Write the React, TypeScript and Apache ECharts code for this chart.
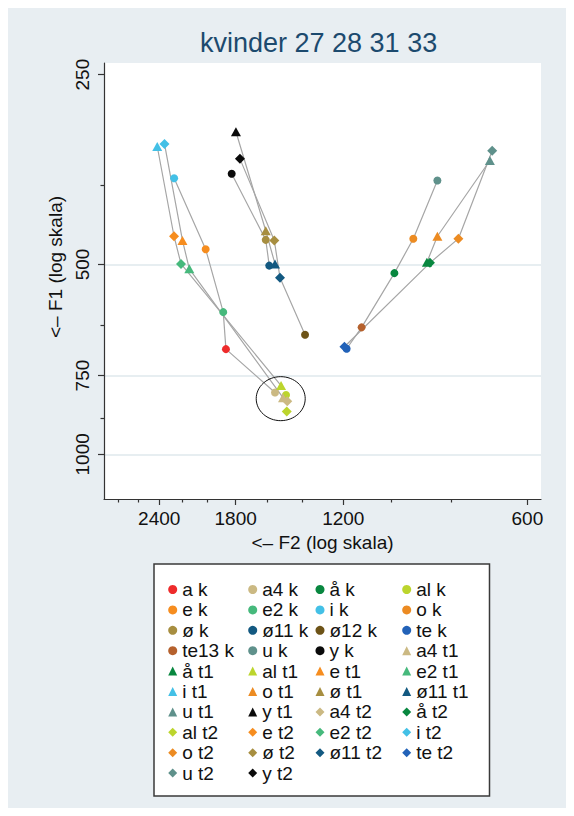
import React, { useEffect, useRef } from "react";
import * as echarts from "echarts";

// Point labels (vowel + measurement time), in legend order
const labels = [
  "a k", "a4 k", "å k", "al k",
  "e k", "e2 k", "i k", "o k",
  "ø k", "ø11 k", "ø12 k", "te k",
  "te13 k", "u k", "y k", "a4 t1",
  "å t1", "al t1", "e t1", "e2 t1",
  "i t1", "o t1", "ø t1", "ø11 t1",
  "u t1", "y t1", "a4 t2", "å t2",
  "al t2", "e t2", "e2 t2", "i t2",
  "o t2", "ø t2", "ø11 t2", "te t2",
  "u t2", "y t2",
];

// F2 (Hz) for each label
const f2Hz = [
  1867, 1552, 990, 1489,
  2015, 1886, 2269, 922,
  1607, 1586, 1386, 1185,
  1120, 842, 1827, 1506,
  876, 1517, 2199, 2143,
  2418, 842, 1607, 1552,
  691, 1798, 1482, 866,
  1485, 2270, 2211, 2353,
  778, 1556, 1523, 1195,
  685, 1771,
];

// F1 (Hz) for each label
const f1Hz = [
  681, 798, 516, 805,
  473, 595, 365, 455,
  457, 502, 646, 680,
  629, 368, 359, 813,
  496, 778, 458, 508,
  325, 451, 442, 499,
  342, 308, 824, 497,
  855, 451, 499, 322,
  455, 458, 525, 675,
  330, 340,
];

// Grey connecting lines between points
const links = [
  ["i k", "e k", "e2 k", "a k", "a4 k"],
  ["i t1", "e t2", "e2 t2", "al t1"],
  ["i t2", "e t1", "e2 t1", "a4 t1"],
  ["y k", "ø k", "ø11 k"],
  ["y t1", "ø t1", "ø11 t1"],
  ["y t2", "ø t2", "ø11 t2", "ø12 k"],
  ["u k", "o k", "å k", "te13 k", "te k"],
  ["u t1", "o t1", "å t1"],
  ["u t2", "o t2", "å t2", "te t2"],
];

const xMajorTicks = [2400, 1800, 1200, 600];
const xMinorTicks = [2800, 2600, 2200, 2000, 1600, 1400, 1000, 800];
const yMajorTicks = [250, 500, 750, 1000];
const yMinorTicks = [375, 625, 875];
const yGridValues = [500, 750, 1000];
const xRange = [570, 2955];
const yRange = [239.6, 1177];
const circled = [1519, 816]; // F2, F1 at centre of the drawn ellipse

const vowelColors: Record<string, string> = {
  a: "#ee2b2b",
  a4: "#cbb983",
  å: "#08873f",
  al: "#bcd52d",
  e: "#f68d1f",
  e2: "#46b97c",
  i: "#43c0e6",
  o: "#ec8b22",
  ø: "#a78e40",
  ø11: "#135981",
  ø12: "#6d5317",
  te: "#2262b8",
  te13: "#b5612d",
  u: "#5f918b",
  y: "#0a0a0a",
};

const FONT = "Liberation Sans, Arial, sans-serif";
const lg = (v: number) => Math.log10(v);
const fmt = (v: number) => String(Math.round(Math.pow(10, v)));

function symbolOf(label: string) {
  if (label.endsWith(" t1")) return "triangle";
  if (label.endsWith(" t2")) return "diamond";
  return "circle";
}
function sizeOf(label: string) {
  if (label.endsWith(" t1")) return [10, 9];
  if (label.endsWith(" t2")) return 10;
  return 8;
}
function colorOf(label: string) {
  return vowelColors[label.split(" ")[0]];
}
function pointOf(label: string) {
  const i = labels.indexOf(label);
  return [lg(f2Hz[i]), lg(f1Hz[i])];
}

export default function App() {
  const ref = useRef<HTMLDivElement>(null);
  useEffect(() => {
    if (!ref.current) return;
    const chart = echarts.init(ref.current, null, { renderer: "svg" });

    const lineSeries = links.map((path) => ({
      type: "line",
      data: path.map(pointOf),
      symbol: "none",
      showSymbol: false,
      silent: true,
      z: 1,
      lineStyle: { color: "#a6a6a6", width: 1.2 },
    }));

    const scatterSeries = labels.map((label) => ({
      type: "scatter",
      name: label,
      data: [pointOf(label)],
      symbol: symbolOf(label),
      symbolSize: sizeOf(label),
      z: 3,
      itemStyle: { color: colorOf(label), opacity: 1 },
    }));

    const legendCols = [160.2, 240.2, 307.5, 394.2];
    const legends = legendCols.map((left, c) => ({
      orient: "vertical",
      left,
      top: 572,
      padding: 0,
      itemGap: 1.4,
      itemWidth: 9,
      itemHeight: 9,
      selectedMode: false,
      textStyle: { fontSize: 19, fontFamily: FONT, color: "#111", lineHeight: 19, padding: [0, 0, 0, 0] },
      data: labels
        .filter((_, i) => i % 4 === c)
        .map((name) => ({ name, icon: symbolOf(name) })),
    }));

    const axisLineStyle = { color: "#333", width: 1.2 };

    chart.setOption({
      animation: false,
      backgroundColor: "#e8eef2",
      title: {
        text: "kvinder 27 28 31 33",
        left: 192,
        top: 21,
        padding: 0,
        textStyle: {
          fontSize: 27,
          lineHeight: 27,
          fontWeight: "normal",
          fontFamily: FONT,
          color: "#1c4a6e",
        },
      },
      grid: {
        left: 96,
        top: 55,
        right: 25,
        bottom: 309,
        show: true,
        backgroundColor: "#ffffff",
        borderWidth: 0,
      },
      xAxis: [
        {
          type: "value",
          min: lg(xRange[0]),
          max: lg(xRange[1]),
          inverse: true,
          position: "bottom",
          axisLine: { show: true, lineStyle: axisLineStyle },
          axisTick: { show: true, customValues: xMajorTicks.map(lg), length: 6, lineStyle: axisLineStyle },
          axisLabel: {
            customValues: xMajorTicks.map(lg),
            formatter: fmt,
            fontSize: 19,
            fontFamily: FONT,
            color: "#111",
            margin: 10,
          },
          splitLine: { show: false },
          name: "<– F2 (log skala)",
          nameLocation: "middle",
          nameGap: 33,
          nameTextStyle: { fontSize: 19, fontFamily: FONT, color: "#111" },
        },
        {
          type: "value",
          min: lg(xRange[0]),
          max: lg(xRange[1]),
          inverse: true,
          position: "bottom",
          axisLine: { show: false },
          axisTick: { show: true, customValues: xMinorTicks.map(lg), length: 3.5, lineStyle: axisLineStyle },
          axisLabel: { show: false },
          splitLine: { show: false },
        },
      ],
      yAxis: [
        {
          type: "value",
          min: lg(yRange[0]),
          max: lg(yRange[1]),
          inverse: true,
          position: "left",
          axisLine: { show: true, lineStyle: axisLineStyle },
          axisTick: { show: true, customValues: yMajorTicks.map(lg), length: 6, lineStyle: axisLineStyle },
          axisLabel: {
            customValues: yMajorTicks.map(lg),
            formatter: fmt,
            rotate: 90,
            fontSize: 19,
            fontFamily: FONT,
            color: "#111",
            margin: 12,
          },
          splitLine: { show: false },
          name: "<– F1 (log skala)",
          nameLocation: "middle",
          nameGap: 27,
          nameTextStyle: { fontSize: 19, fontFamily: FONT, color: "#111", padding: [0, 0, 0, 28] },
        },
        {
          type: "value",
          min: lg(yRange[0]),
          max: lg(yRange[1]),
          inverse: true,
          position: "left",
          axisLine: { show: false },
          axisTick: { show: true, customValues: yMinorTicks.map(lg), length: 3.5, lineStyle: axisLineStyle },
          axisLabel: { show: false },
          splitLine: { show: false },
        },
        {
          type: "value",
          min: lg(yRange[0]),
          max: lg(yRange[1]),
          inverse: true,
          position: "left",
          axisLine: { show: false },
          axisTick: { show: false, customValues: yGridValues.map(lg) },
          axisLabel: { show: false },
          splitLine: { show: true, lineStyle: { color: "#dfe8ec", width: 1.6 } },
        },
      ],
      legend: legends,
      series: [...lineSeries, ...scatterSeries],
    });

    const c = chart.convertToPixel({ xAxisIndex: 0, yAxisIndex: 0 }, [lg(circled[0]), lg(circled[1])]) as number[];
    chart.setOption({
      graphic: {
        elements: [
          {
            type: "rect",
            z: 0,
            shape: { x: 146, y: 556, width: 335.5, height: 232 },
            style: { fill: "#ffffff", stroke: "#3a3a3a", lineWidth: 1.5 },
          },
          {
            type: "ellipse",
            z: 10,
            shape: { cx: c[0], cy: c[1], rx: 24.5, ry: 22 },
            style: { fill: "none", stroke: "#111", lineWidth: 1 },
          },
        ],
      },
    });

    return () => chart.dispose();
  }, []);
  return <div ref={ref} style={{ width: 558, height: 800 }} />;
}
